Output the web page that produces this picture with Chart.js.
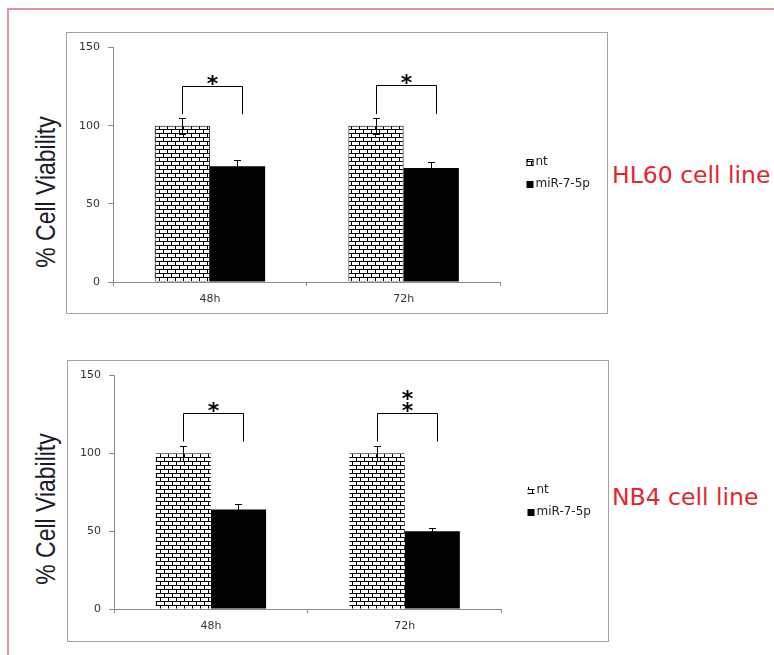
<!DOCTYPE html>
<html><head><meta charset="utf-8">
<script src="https://cdn.jsdelivr.net/npm/chart.js@4.4.1/dist/chart.umd.min.js"></script>
<style>
html,body{margin:0;padding:0;background:#fff;width:774px;height:655px;overflow:hidden;position:relative;font-family:'DejaVu Sans',sans-serif;}
#redframe{position:absolute;left:7px;top:8px;width:800px;height:700px;border-top:2px solid #e0959c;border-left:2px solid #e0959c;}
.frame{position:absolute;border:1px solid #a3a3a3;width:540px;height:280px;}
.frame canvas{position:absolute;left:0;top:0;}
.ytitle{position:absolute;font-family:'Liberation Sans',sans-serif;font-size:27px;line-height:1;color:#1a1a2a;white-space:nowrap;transform:translate(-50%,-50%) rotate(-90deg) scaleX(0.85);}
.cellline{position:absolute;font-family:'DejaVu Sans',sans-serif;font-size:23.5px;line-height:1;color:#e3262d;white-space:nowrap;transform:translateY(-50%);}
</style></head>
<body>
<div id="redframe"></div>
<div class="frame" style="left:66px;top:32px;"><canvas id="c1" width="540" height="280"></canvas></div>
<div class="frame" style="left:67px;top:360px;"><canvas id="c2" width="540" height="280"></canvas></div>
<div class="ytitle" style="left:46px;top:192px;">% Cell Viability</div>
<div class="ytitle" style="left:46px;top:509px;">% Cell Viability</div>
<div class="cellline" style="left:612px;top:176px;">HL60 cell line</div>
<div class="cellline" style="left:612px;top:498px;">NB4 cell line</div>
<script>
const categories = ['48h', '72h'];
const seriesNames = ['nt', 'miR-7-5p'];
const yTicks = [0, 50, 100, 150];

const hl60Nt = [100, 100];
const hl60Mir = [74, 73];
const hl60NtErr = [5, 5];
const hl60MirErr = [4, 3.5];
const hl60BracketTop = [125.5, 126];
const hl60BracketLeg = [107.4, 107.5];
const hl60Stars = [1, 1];

const nb4Nt = [100, 100];
const nb4Mir = [64, 50];
const nb4NtErr = [5, 5];
const nb4MirErr = [3.5, 2];
const nb4BracketTop = [126, 126];
const nb4BracketLeg = [107.6, 107.6];
const nb4Stars = [1, 2];

function brickPattern(ctx) {
  const c = document.createElement('canvas'); c.width = 8; c.height = 8;
  const g = c.getContext('2d');
  g.fillStyle = '#fff'; g.fillRect(0, 0, 8, 8);
  g.fillStyle = '#000';
  g.fillRect(0, 0, 8, 1); g.fillRect(0, 4, 8, 1);
  g.fillRect(0, 1, 1, 3); g.fillRect(4, 5, 1, 3);
  return ctx.createPattern(c, 'repeat');
}

const annotPlugin = {
  id: 'annot',
  afterDatasetsDraw(chart, args, opts) {
    const ctx = chart.ctx; const y = chart.scales.y;
    ctx.save();
    ctx.strokeStyle = '#000'; ctx.lineWidth = 1;
    chart.data.datasets.forEach((ds, i) => {
      const meta = chart.getDatasetMeta(i);
      meta.data.forEach((bar, j) => {
        const v = ds.data[j], e = ds.errors[j];
        const x = Math.round(bar.x) + 0.5;
        const yt = Math.round(y.getPixelForValue(v + e)) + 0.5;
        const yb = Math.round(y.getPixelForValue(v - e)) + 0.5;
        ctx.beginPath();
        ctx.moveTo(x, yt); ctx.lineTo(x, yb);
        ctx.moveTo(x - 3.5, yt); ctx.lineTo(x + 3.5, yt);
        ctx.moveTo(x - 3.5, yb); ctx.lineTo(x + 3.5, yb);
        ctx.stroke();
      });
    });
    const m0 = chart.getDatasetMeta(0), m1 = chart.getDatasetMeta(1);
    ctx.font = 'bold 22px "DejaVu Sans"';
    ctx.textAlign = 'center'; ctx.textBaseline = 'alphabetic'; ctx.fillStyle = '#000';
    const mt = ctx.measureText('*');
    opts.top.forEach((t, j) => {
      const xl = Math.round(m0.data[j].x) + 0.5;
      const xr = Math.round(m1.data[j].x + m1.data[j].width * 0.09) + 0.5;
      const yt = Math.round(y.getPixelForValue(t)) + 0.5;
      const yl = y.getPixelForValue(opts.leg[j]);
      ctx.beginPath();
      ctx.moveTo(xl, yl); ctx.lineTo(xl, yt); ctx.lineTo(xr, yt); ctx.lineTo(xr, yl);
      ctx.stroke();
      const cx = (xl + xr) / 2;
      for (let k = 0; k < opts.stars[j]; k++) {
        const cy = yt - 7 - k * 12;
        const base = cy + (mt.actualBoundingBoxAscent - mt.actualBoundingBoxDescent) / 2;
        ctx.fillText('*', cx, base);
      }
    });
    ctx.restore();
  },
  afterDraw(chart) {
    const ctx = chart.ctx;
    ctx.save();
    const cy0 = chart.height / 2;
    const bx = chart.chartArea.right + 26;
    chart.data.datasets.forEach((ds, i) => {
      const cy = Math.round(cy0 - 11 + i * 22);
      ctx.fillStyle = ds.backgroundColor;
      ctx.fillRect(bx, cy - 3, 7, 7);
      if (ds.borderWidth) { ctx.strokeStyle = ds.borderColor; ctx.lineWidth = 1; ctx.strokeRect(bx + 0.5, cy - 2.5, 6, 6); }
      ctx.fillStyle = '#222'; ctx.font = '12px "DejaVu Sans"';
      ctx.textAlign = 'left'; ctx.textBaseline = 'middle';
      ctx.fillText(ds.label, bx + 9, cy);
    });
    ctx.restore();
  }
};

function makeChart(id, nt, mir, ntErr, mirErr, top, leg, stars, ntBorder, padTop, axisH) {
  const ctx = document.getElementById(id).getContext('2d');
  const pat = brickPattern(ctx);
  return new Chart(ctx, {
    type: 'bar',
    data: {
      labels: categories,
      datasets: [
        { label: seriesNames[0], data: nt, errors: ntErr, backgroundColor: pat, borderColor: '#000', borderWidth: ntBorder },
        { label: seriesNames[1], data: mir, errors: mirErr, backgroundColor: '#000', borderColor: '#000', borderWidth: 0 }
      ]
    },
    options: {
      responsive: false, animation: false, devicePixelRatio: 1,
      layout: { padding: { top: padTop, right: 106.5, bottom: 0, left: 0 } },
      plugins: { legend: { display: false }, tooltip: { enabled: false }, annot: { top, leg, stars } },
      datasets: { bar: { categoryPercentage: 0.57, barPercentage: 1 } },
      scales: {
        x: {
          grid: { display: true, drawOnChartArea: false, drawTicks: true, tickLength: 4, color: '#8a8a8a', offset: true },
          border: { color: '#8a8a8a' },
          ticks: { font: { family: 'DejaVu Sans', size: 11 }, color: '#333', padding: 7 },
          afterFit(s) { s.height = axisH; }
        },
        y: {
          min: yTicks[0], max: yTicks[yTicks.length - 1],
          afterBuildTicks(s) { s.ticks = yTicks.map(v => ({ value: v })); },
          grid: { drawOnChartArea: false, tickLength: 5, color: '#8a8a8a' },
          border: { color: '#8a8a8a' },
          ticks: { font: { family: 'DejaVu Sans', size: 11 }, color: '#333', padding: 8 },
          afterFit(s) { s.width = 46; }
        }
      }
    },
    plugins: [annotPlugin]
  });
}

makeChart('c1', hl60Nt, hl60Mir, hl60NtErr, hl60MirErr, hl60BracketTop, hl60BracketLeg, hl60Stars, 1, 14, 31);
makeChart('c2', nb4Nt, nb4Mir, nb4NtErr, nb4MirErr, nb4BracketTop, nb4BracketLeg, nb4Stars, 0, 13, 32);
</script>
</body></html>
